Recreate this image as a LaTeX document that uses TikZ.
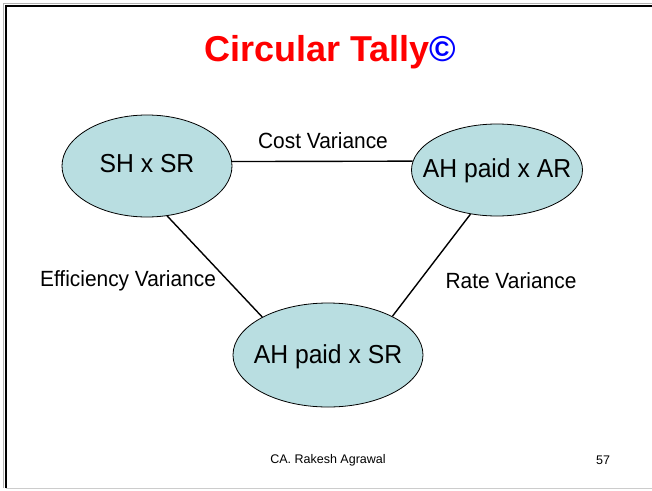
\documentclass[tikz,border=0pt]{standalone}
\usepackage{fontspec}
\setmainfont{Liberation Sans}
\newfontfamily\narrowfont[FakeStretch=0.95]{Liberation Sans}
\usetikzlibrary{shapes.geometric}
\definecolor{blobfill}{RGB}{185,222,225}
\definecolor{red}{RGB}{255,0,0}
\definecolor{blue}{RGB}{0,0,255}

\begin{document}
\begin{tikzpicture}[x=1pt, y=-1pt,
  blob/.style={ellipse, draw, line width=0.8pt, fill=blobfill, inner sep=0pt},
  tally/.style={font=\narrowfont\fontsize{26}{28}\selectfont},
  varlabel/.style={font=\narrowfont\fontsize{22}{24}\selectfont},
  link/.style={line width=1.4pt}]
\useasboundingbox (0,0) rectangle (652,490);

% slide frame
\draw [gray!60, line width=1pt] (3.5,488) -- (3.5,3.5) -- (652,3.5);
\draw [line width=2pt] (5.5,488) -- (5.5,5.5) -- (652,5.5);
\draw [gray!40, line width=1pt] (5.5,488) -- (652,488);

\node [font=\bfseries\fontsize{36}{38}\selectfont, text=red] (title) at (330,52)
  {Circular Tally\textcolor{blue}{©}};

% the three products
\node [blob, minimum width=170, minimum height=102] (sh) at (147,166) {};
\node [blob, minimum width=171, minimum height=92] (ar) at (497,170) {};
\node [blob, minimum width=190, minimum height=104] (sr) at (328,355) {};
\node [tally] (shtext) at (147,164) {SH x SR};
\node [tally] (artext) at (497,171) {AH paid x AR};
\node [tally] (srtext) at (328,357) {AH paid x SR};

\draw [link] (sh.3) -- (ar.174.5);
\draw [link] (sh.-68) -- (sr.150);
\draw [link] (ar.-121) -- (sr.31);

\node [varlabel] (cost) at (323,141) {Cost Variance};
\node [varlabel] (eff) at (128,281) {Efficiency Variance};
\node [varlabel] (rate) at (511,281) {Rate Variance};

\node [font=\fontsize{12.5}{14}\selectfont] (author) at (328,460) {CA. Rakesh Agrawal};
\node [font=\fontsize{12.5}{14}\selectfont] (page) at (603,460) {57};
\end{tikzpicture}
\end{document}
